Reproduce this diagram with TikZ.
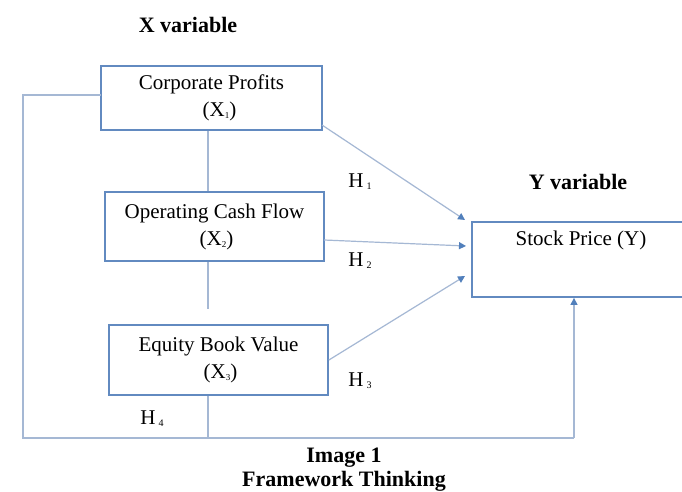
\documentclass[tikz,border=0pt]{standalone}
\usepackage{fontspec}
\setmainfont{Liberation Serif}
\usetikzlibrary{arrows.meta}
\definecolor{boxc}{RGB}{98,138,192}
\definecolor{linec}{RGB}{165,184,212}
\definecolor{arrc}{RGB}{82,128,188}
\newcommand\bodyfont{\fontsize{21}{27}\selectfont}
\newcommand\headfont{\fontsize{22}{27}\selectfont\bfseries}
\newcommand\hyp[1]{H\hspace{3pt}\raisebox{-2pt}{\fontsize{10}{10}\selectfont #1}}
\newcommand\xs[1]{(X\raisebox{-2pt}{\fontsize{9}{9}\selectfont #1})}
\begin{document}
\begin{tikzpicture}[x=1pt,y=-1pt,
  box/.style={draw=boxc,line width=1.8pt,rectangle,inner sep=0pt,align=center,font=\bodyfont},
  conn/.style={draw=linec,line width=1.2pt},
  arr/.style={conn,-{Triangle[width=7pt,length=7pt,color=arrc]}},
  lab/.style={font=\bodyfont,inner sep=0pt},
  head/.style={font=\headfont,inner sep=0pt,align=center}]
\useasboundingbox (0,0) rectangle (682,492);
\clip (0,0) rectangle (682,492);
\fill[white] (0,0) rectangle (682,492);

% titles
\node[head] (xv) at (188,25) {X variable};
\node[head] (yv) at (578,182) {Y variable};
\node[head] (im) at (344,458) {Image 1};
\node[head] (fw) at (344,481) {Framework Thinking};

% boxes
\node[box,minimum width=221pt,minimum height=64pt] (b1) at (211.5,98) {Corporate Profits\\\hspace{16pt}\xs{1}};
\node[box,minimum width=219pt,minimum height=69pt] (b2) at (214.5,226.5) {Operating Cash Flow\\\hspace{4pt}\xs{2}};
\node[box,minimum width=219pt,minimum height=70pt] (b3) at (218.5,360) {Equity Book Value\\\hspace{4pt}\xs{3}};
\node[box,minimum width=222pt,minimum height=75pt] (sp) at (583,259.5) {};
\node[lab] (spt) at (581,240) {Stock Price (Y)};

% hypothesis labels
\node[lab] (h1) at (360,182) {\hyp{1}};
\node[lab] (h2) at (360,261) {\hyp{2}};
\node[lab] (h3) at (360,381) {\hyp{3}};
\node[lab] (h4) at (152,419) {\hyp{4}};

% helper coordinates
\coordinate (v) at (208,0);
\coordinate (g) at (208,309);
\coordinate (l0) at (101,95);
\coordinate (l1) at (23,95);
\coordinate (l2) at (23,438);
\coordinate (l3) at (574,438);
\coordinate (a1) at (465,220);
\coordinate (a2) at (466,246);
\coordinate (a3) at (465,276);
\coordinate (s1) at (322,125);
\coordinate (s2) at (324,240);

% vertical links between X boxes
\draw[conn] (b1.south -| v) -- (b2.north -| v);
\draw[conn] (b2.south -| v) -- (g);
\draw[conn] (b3.south -| v) -- (l2 -| v);

% loop (H4)
\draw[conn] (l0) -- (l1) -- (l2) -- (l3);
\draw[arr] (l3) -- (sp.south -| l3);

% H1..H3 arrows
\draw[arr] (s1) -- (a1);
\draw[arr] (s2) -- (a2);
\draw[arr] (b3.east) -- (a3);
\end{tikzpicture}
\end{document}
